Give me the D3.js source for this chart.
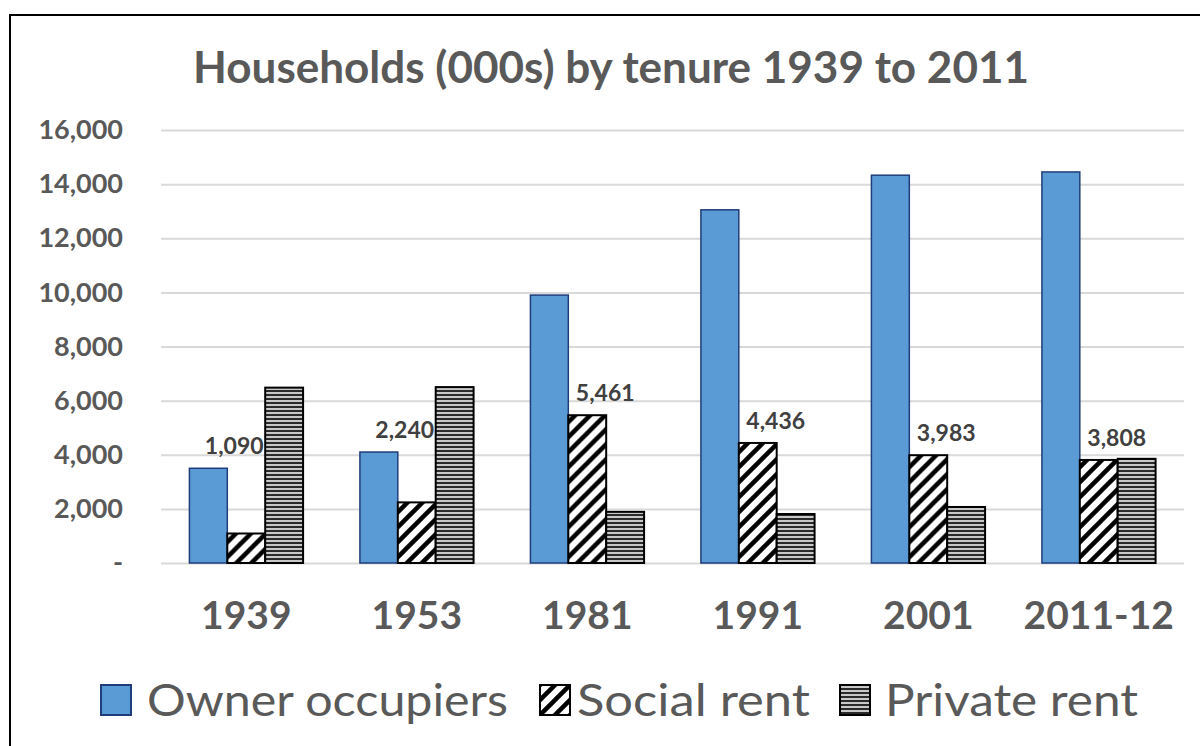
<!DOCTYPE html>
<html>
<head>
<meta charset="utf-8">
<script src="https://cdn.jsdelivr.net/npm/d3@7"></script>
<style>
  body { margin: 0; background: #fff; }
  text { font-family: Lato, "Open Sans", sans-serif; }
</style>
</head>
<body>
<div class="chart"></div>
<script>
// data (thousands of households)
let categories = ['1939', '1953', '1981', '1991', '2001', '2011-12'];
let series = ['Owner occupiers', 'Social rent', 'Private rent'];
let owner = [3500, 4100, 9900, 13050, 14330, 14450];
let social = [1090, 2240, 5461, 4436, 3983, 3808];
let privateRent = [6480, 6500, 1890, 1810, 2070, 3850];
let yTicks = [0, 2000, 4000, 6000, 8000, 10000, 12000, 14000, 16000];
let title = 'Households (000s) by tenure 1939 to 2011';

let W = 1200, H = 746;
let margin = {top: 130, right: 16, bottom: 183, left: 161};
let width = W - margin.left - margin.right;
let height = H - margin.top - margin.bottom;

let svg = d3.select('.chart')
  .append('svg')
    .attr('width', W)
    .attr('height', H);

// patterns
let defs = svg.append('defs');
let diag = defs.append('pattern')
  .attr('id', 'diag')
  .attr('patternUnits', 'userSpaceOnUse')
  .attr('width', 15)
  .attr('height', 15);
diag.append('rect').attr('width', 15).attr('height', 15).style('fill', '#fff');
diag.append('path')
  .attr('d', 'M-4,4 L4,-4 M0,15 L15,0 M11,19 L19,11')
  .style('stroke', '#000')
  .style('stroke-width', 4.5);

let horiz = defs.append('pattern')
  .attr('id', 'horiz')
  .attr('patternUnits', 'userSpaceOnUse')
  .attr('width', 8)
  .attr('height', 4);
horiz.append('rect').attr('width', 8).attr('height', 4).style('fill', '#c8c8c8');
horiz.append('rect').attr('width', 8).attr('height', 2).style('fill', '#2a2a2a');

let fills = ['#5b9bd5', 'url(#diag)', 'url(#horiz)'];
let strokes = ['#1f3d7a', '#000', '#000'];

// frame
svg.append('rect')
  .attr('x', 10)
  .attr('y', 15)
  .attr('width', 1300)
  .attr('height', 900)
  .style('fill', 'none')
  .style('stroke', '#000')
  .style('stroke-width', 2);

svg.append('text')
  .attr('x', 611)
  .attr('y', 83)
  .attr('text-anchor', 'middle')
  .attr('textLength', 836)
  .attr('lengthAdjust', 'spacingAndGlyphs')
  .style('font-size', '44px')
  .style('font-weight', 'bold')
  .style('fill', '#595959')
  .text(title);

let g = svg.append('g')
  .attr('transform', `translate(${margin.left}, ${margin.top})`);

let yScale = d3.scaleLinear()
  .domain([0, 16000])
  .range([height, 0]);

let x0 = d3.scaleBand()
  .domain(categories)
  .range([0, width])
  .paddingInner(1 / 3)
  .paddingOuter(1 / 6);

let x1 = d3.scaleBand()
  .domain(series)
  .range([0, x0.bandwidth()]);

// gridlines
let yAxis = d3.axisLeft(yScale)
  .tickValues(yTicks)
  .tickSize(-width)
  .tickPadding(38)
  .tickFormat(d => d === 0 ? '-' : d3.format(',')(d));

let yG = g.append('g').call(yAxis);
yG.select('.domain').remove();
yG.selectAll('.tick line').style('stroke', '#d9d9d9').style('stroke-width', 2);
yG.selectAll('.tick text')
  .style('font-size', '27px')
  .style('font-weight', 'bold')
  .style('fill', '#595959')
  .style('font-family', 'Lato, sans-serif');

let xAxis = d3.axisBottom(x0).tickSize(0).tickPadding(38);
let xG = g.append('g')
  .attr('transform', `translate(0, ${height})`)
  .call(xAxis);
xG.select('.domain').remove();
xG.selectAll('.tick text')
  .style('font-size', '39px')
  .style('font-weight', 'bold')
  .style('fill', '#595959')
  .style('font-family', 'Lato, sans-serif');

// bars
let rows = categories.map((c, i) => ({cat: c, vals: [owner[i], social[i], privateRent[i]]}));

let groups = g.selectAll('.grp')
  .data(rows)
  .enter()
  .append('g')
    .attr('class', 'grp')
    .attr('transform', d => `translate(${x0(d.cat)}, 0)`);

groups.selectAll('rect')
  .data(d => d.vals.map((v, j) => ({key: series[j], v: v, j: j})))
  .enter()
  .append('rect')
    .attr('x', d => x1(d.key))
    .attr('width', x1.bandwidth())
    .attr('y', d => yScale(d.v))
    .attr('height', d => height - yScale(d.v))
    .style('fill', d => fills[d.j])
    .style('stroke', d => strokes[d.j])
    .style('stroke-width', d => d.j === 0 ? 1.5 : 2);

// social rent labels, lifted above the owner bar when it is close
groups.append('text')
  .attr('x', d => {
    let near = d.vals[0] < d.vals[1] + 3000;
    return x1(series[1]) + x1.bandwidth() / 2 + (near ? -12 : 18);
  })
  .attr('y', d => {
    let near = d.vals[0] < d.vals[1] + 3000;
    return yScale(near ? d.vals[0] : d.vals[1]) - 14;
  })
  .attr('text-anchor', 'middle')
  .style('font-size', '23px')
  .style('font-weight', 'bold')
  .style('fill', '#404040')
  .text(d => d3.format(',')(d.vals[1]));

// legend
let legend = svg.append('g').attr('transform', 'translate(0, 700)');
let legX = [101, 540, 840];
let legW = [361, 233, 253];
series.forEach((s, j) => {
  legend.append('rect')
    .attr('x', legX[j])
    .attr('y', -15)
    .attr('width', 30)
    .attr('height', 30)
    .style('fill', fills[j])
    .style('stroke', strokes[j])
    .style('stroke-width', 2);
  legend.append('text')
    .attr('x', legX[j] + (j === 0 ? 46 : j === 1 ? 37 : 45))
    .attr('y', 16)
    .attr('textLength', legW[j])
    .attr('lengthAdjust', 'spacingAndGlyphs')
    .style('font-size', '44px')
    .style('fill', '#595959')
    .text(s);
});
</script>
</body>
</html>
